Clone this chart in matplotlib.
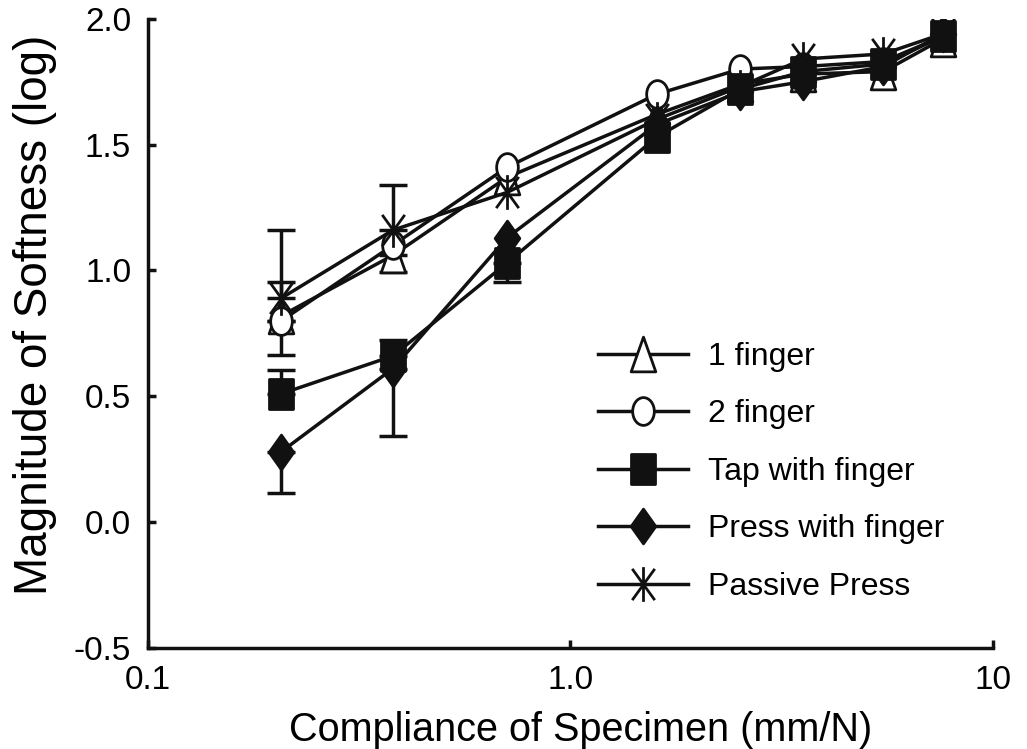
import matplotlib
matplotlib.use('Agg')
import matplotlib.pyplot as plt
from matplotlib.ticker import FixedLocator, FixedFormatter
from matplotlib.path import Path
import numpy as np

plt.rcParams['font.family'] = ['Liberation Sans', 'DejaVu Sans']

# compliance (mm/N)
compliance = [0.207, 0.38, 0.708, 1.60, 2.52, 3.55, 5.5, 7.6]

# magnitude of softness (log)
one_finger = [0.82, 1.06, 1.37, 1.62, 1.74, 1.78, 1.79, 1.92]
two_finger = [0.80, 1.10, 1.41, 1.70, 1.80, 1.81, 1.83, 1.93]
tap_finger = [0.51, 0.66, 1.03, 1.53, 1.72, 1.79, 1.82, 1.93]
press_finger = [0.28, 0.61, 1.13, 1.58, 1.71, 1.75, 1.81, 1.94]
passive_press = [0.89, 1.16, 1.31, 1.60, 1.73, 1.84, 1.86, 1.94]

# error bars (lower, upper); 0 = not drawn
one_finger_err = ([0, 0.065, 0, 0, 0, 0, 0, 0], [0, 0, 0, 0, 0, 0, 0, 0])
two_finger_err = ([0.135, 0, 0, 0, 0, 0, 0, 0], [0.155, 0, 0, 0, 0, 0, 0, 0])
tap_finger_err = ([0, 0, 0.075, 0, 0, 0, 0, 0], [0.095, 0.065, 0, 0, 0, 0, 0, 0])
press_finger_err = ([0.165, 0.27, 0, 0, 0, 0, 0, 0], [0, 0, 0, 0, 0, 0, 0, 0])
passive_press_err = ([0, 0, 0, 0, 0, 0, 0, 0], [0.27, 0.18, 0, 0, 0, 0, 0, 0])

labels = ['1 finger', '2 finger', 'Tap with finger', 'Press with finger', 'Passive Press']
series = [one_finger, two_finger, tap_finger, press_finger, passive_press]
errors = [one_finger_err, two_finger_err, tap_finger_err, press_finger_err, passive_press_err]

# markers in the original are a bit taller than wide
tri = Path([(0, 1), (-0.71, -1), (0.71, -1), (0, 1)], closed=True)
circ = Path(Path.unit_circle().vertices * [0.78, 1.0], Path.unit_circle().codes)
sq = Path([(-0.8, -1), (0.8, -1), (0.8, 1), (-0.8, 1), (-0.8, -1)], closed=True)
dia = Path([(0, 1), (0.71, 0), (0, -1), (-0.71, 0), (0, 1)], closed=True)
star = Path([(0, -1), (0, 1), (-0.65, -0.9), (0.65, 0.9), (-0.65, 0.9), (0.65, -0.9)],
            [Path.MOVETO, Path.LINETO] * 3)

black = '#111111'
styles = [
    dict(marker=tri, mfc='white', ms=25),
    dict(marker=circ, mfc='white', ms=20),
    dict(marker=sq, mfc=black, ms=21.5),
    dict(marker=dia, mfc=black, ms=25),
    dict(marker=star, mfc=black, ms=25),
]

fig = plt.figure(figsize=(10.27, 7.49), dpi=100)
ax = fig.add_axes([0.144, 0.135, 0.823, 0.84])

x = np.array(compliance)
for y, err, lab, st in zip(series, errors, labels, styles):
    y = np.array(y)
    lo, hi = np.array(err[0]), np.array(err[1])
    # lower and upper error bars separately so one-sided ones get only one cap
    for m, e in [(lo > 0, [lo, np.zeros_like(lo)]), (hi > 0, [np.zeros_like(hi), hi])]:
        if m.any():
            ax.errorbar(x[m], y[m], yerr=[e[0][m], e[1][m]], fmt='none',
                        ecolor=black, elinewidth=2.5, capsize=10, capthick=2.5, zorder=2)
    ax.plot(x, y, color=black, lw=2.5, marker=st['marker'], ms=st['ms'],
            mfc=st['mfc'], mec=black, mew=2.0, label=lab, zorder=3)

ax.set_xscale('log')
ax.set_xlim(0.1, 10)
ax.set_ylim(-0.5, 2.0)
ax.xaxis.set_major_locator(FixedLocator([0.1, 1, 10]))
ax.xaxis.set_major_formatter(FixedFormatter(['0.1', '1.0', '10']))
ax.xaxis.set_minor_locator(FixedLocator([]))
ax.set_yticks([-0.5, 0.0, 0.5, 1.0, 1.5, 2.0])
ax.set_yticklabels(['-0.5', '0.0', '0.5', '1.0', '1.5', '2.0'])

for s in ['top', 'right']:
    ax.spines[s].set_visible(False)
for s in ['left', 'bottom']:
    ax.spines[s].set_linewidth(2.5)
    ax.spines[s].set_color(black)
    ax.spines[s].set_capstyle('projecting')

ax.tick_params(direction='in', length=6, width=2.5, color=black, labelsize=24, pad=12)

ax.set_xlabel('Compliance of Specimen (mm/N)', fontsize=28.5, labelpad=11)
ax.xaxis.label.set_x(0.512)
ax.set_ylabel('Magnitude of Softness (log)', fontsize=33, labelpad=12)
ax.yaxis.label.set_y(0.529)

ax.legend(loc='upper left', bbox_to_anchor=(598 / 1027, 1 - 342 / 749),
          bbox_transform=fig.transFigure, frameon=False, fontsize=23,
          handlelength=2.82, handletextpad=0.63, labelspacing=0.86, borderpad=0,
          borderaxespad=0)

fig.savefig('out.png', dpi=100)
